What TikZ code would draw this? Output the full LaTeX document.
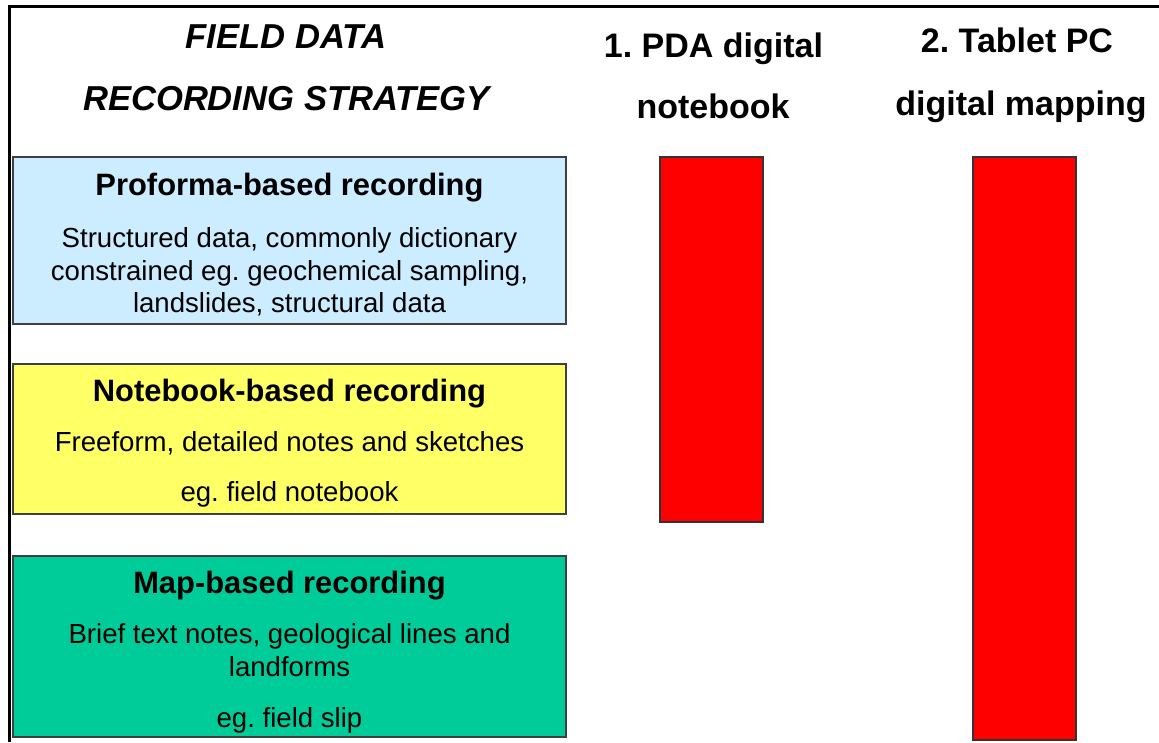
\documentclass[tikz,border=0pt]{standalone}
\usepackage{fontspec}
\setmainfont{Liberation Sans}
\frenchspacing
\begin{document}
\begin{tikzpicture}[x=1pt,y=-1pt,
  frameline/.style={line width=3pt,black},
  catbox/.style={draw=black!75,line width=1.2pt,inner sep=0pt},
  barbox/.style={draw=black!80,line width=1.2pt,fill=barred},
  title/.style={anchor=base,inner sep=0pt,font=\fontsize{34.6}{40}\selectfont\bfseries\itshape},
  coltitle/.style={anchor=base,inner sep=0pt,font=\fontsize{34}{40}\selectfont\bfseries},
  boxhead/.style={anchor=base,inner sep=0pt,font=\fontsize{30.9}{36}\selectfont\bfseries},
  boxtext/.style={anchor=base,inner sep=0pt,font=\fontsize{27.6}{33}\selectfont}]
\definecolor{proforma}{HTML}{CCECFF}
\definecolor{notebook}{HTML}{FFFF66}
\definecolor{mapgreen}{HTML}{00CC99}
\definecolor{barred}{HTML}{FF0000}
\useasboundingbox (0,0) rectangle (1159,742);
\fill[white] (0,0) rectangle (1159,742);

% outer frame: top and left rules
\coordinate (ftl) at (9.5,6);
\coordinate (ftr) at (1159,6);
\coordinate (fbl) at (9.5,742);
\draw[frameline] (ftr) -- (ftl) -- (fbl);

% column headings
\node[title] (t1) at (286,48) {FIELD DATA};
\node[title] (t2) at (286.5,110) {RECORDING STRATEGY};
\node[coltitle] (c1a) at (713.5,57) {1. PDA digital};
\node[coltitle] (c1b) at (713,118) {notebook};
\node[coltitle] (c2a) at (1017,52) {2. Tablet PC};
\node[coltitle] (c2b) at (1021,115) {digital mapping};

% recording strategy boxes
\node[catbox,fill=proforma,minimum width=553pt,minimum height=167pt] (pf) at (289.5,240.5) {};
\node[catbox,fill=notebook,minimum width=553pt,minimum height=150pt] (nb) at (289.5,439) {};
\node[catbox,fill=mapgreen,minimum width=553pt,minimum height=181pt] (mb) at (289.5,646.5) {};

\node[boxhead] (pfh) at (289.5,195) {Proforma-based recording};
\node[boxtext] (pf1) at (289.5,247) {Structured data, commonly dictionary};
\node[boxtext] (pf2) at (289.5,280) {constrained eg. geochemical sampling,};
\node[boxtext] (pf3) at (289.5,312) {landslides, structural data};

\node[boxhead] (nbh) at (289.5,401) {Notebook-based recording};
\node[boxtext] (nb1) at (289.5,451) {Freeform, detailed notes and sketches};
\node[boxtext] (nb2) at (289.5,501) {eg. field notebook};

\node[boxhead] (mbh) at (289.5,593) {Map-based recording};
\node[boxtext] (mb1) at (289.5,643) {Brief text notes, geological lines and};
\node[boxtext] (mb2) at (289.5,676) {landforms};
\node[boxtext] (mb3) at (289.5,727) {eg. field slip};

% coverage bars
\draw[barbox] (660,157) rectangle (763,522);
\draw[barbox] (973,157) rectangle (1076,740);
\end{tikzpicture}
\end{document}
